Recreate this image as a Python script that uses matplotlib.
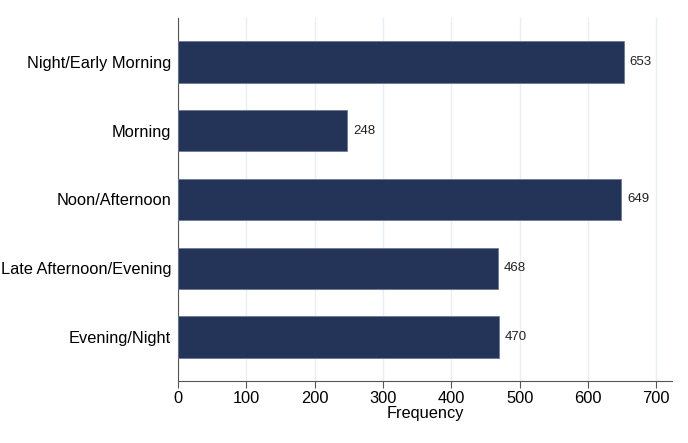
import matplotlib
matplotlib.use("Agg")
import matplotlib.pyplot as plt

categories = ["Night/Early Morning", "Morning", "Noon/Afternoon",
              "Late Afternoon/Evening", "Evening/Night"]
values = [653, 248, 649, 468, 470]
xticks = [0, 100, 200, 300, 400, 500, 600, 700]

plt.rcParams['font.family'] = ['Liberation Sans', 'DejaVu Sans']

fig = plt.figure(figsize=(6.88, 4.43), dpi=100)
ax = fig.add_axes([178/688, 1-381/443, (672-178)/688, (381-18)/443])

ypos = list(range(len(categories)))
ax.barh(ypos, values, height=0.6, color="#243358", edgecolor="#6b7a96",
        linewidth=0.6, zorder=3)
for y, v in zip(ypos, values):
    ax.text(v + 8, y, str(v), va="center", ha="left", fontsize=9.5, color="#222222")

ax.set_yticks(ypos)
ax.set_yticklabels(categories, fontsize=11.8)
ax.set_ylim(4.64, -0.64)
ax.set_xlim(0, 723)
ax.set_xticks(xticks)
ax.set_xticklabels([str(t) for t in xticks], fontsize=11.8)
ax.set_xlabel("Frequency", fontsize=11.8, labelpad=0)

ax.grid(axis="x", color="#e8eef4", linewidth=1, zorder=0)
for s in ["top", "right"]:
    ax.spines[s].set_visible(False)
ax.spines["left"].set_color("#555555")
ax.spines["bottom"].set_color("#555555")
ax.tick_params(axis="y", length=0, pad=5)
ax.tick_params(axis="x", length=5, color="#555555", pad=2)

fig.savefig("out.png", dpi=100)
